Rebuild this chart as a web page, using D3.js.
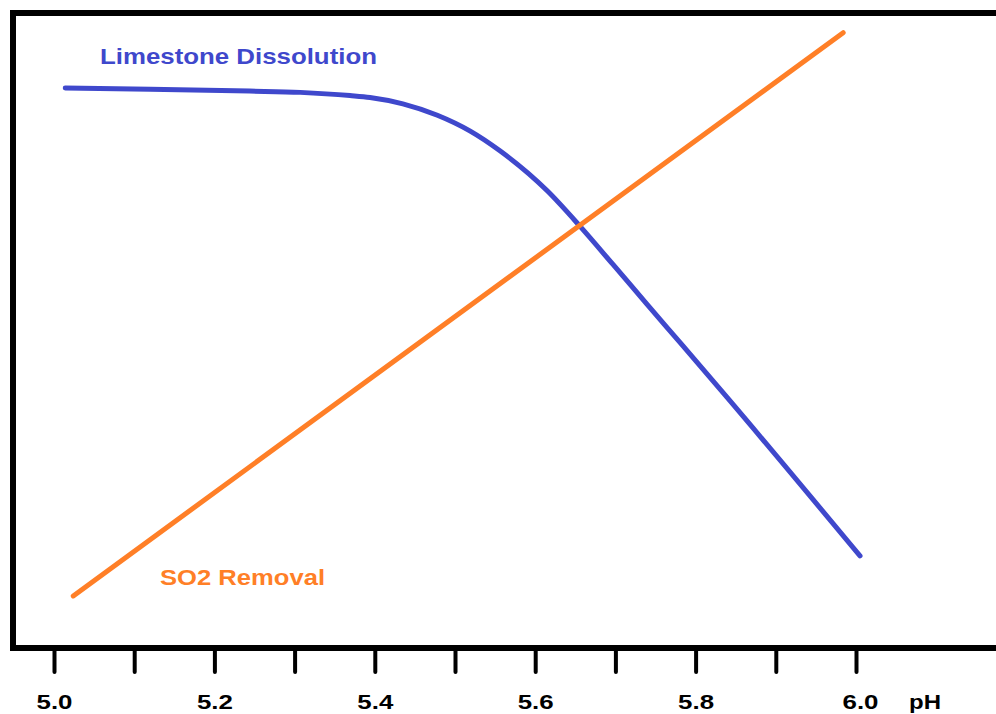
<!DOCTYPE html>
<html>
<head>
<meta charset="utf-8">
<script src="https://cdn.jsdelivr.net/npm/d3@7"></script>
<style>
  html, body { margin: 0; padding: 0; background: #fff; }
  svg { display: block; }
  text { font-family: "Liberation Sans", Arial, sans-serif; font-weight: bold; }
</style>
</head>
<body>
<svg id="chart" width="996" height="714"></svg>
<script>
// ---- data ----
const tickValues = [5.0, 5.1, 5.2, 5.3, 5.4, 5.5, 5.6, 5.7, 5.8, 5.9, 6.0];
const tickLabels = ["5.0", "", "5.2", "", "5.4", "", "5.6", "", "5.8", "", "6.0"];
const limestonePH = [5.014, 5.120, 5.244, 5.307, 5.369, 5.394, 5.435, 5.478, 5.519, 5.556, 5.615, 5.656, 5.697, 5.739, 5.784, 5.839, 6.005];
const limestoneVal = [88.2, 88.0, 87.7, 87.5, 87.0, 86.7, 85.7, 83.9, 81.4, 78.3, 72.0, 66.4, 60.4, 54.2, 47.6, 39.5, 14.5];
const so2PH = [5.024, 5.984];
const so2Val = [8.2, 96.9];
const seriesNames = ["Limestone Dissolution", "SO2 Removal"];
const axisUnit = "pH";

// ---- layout ----
const svg = d3.select("#chart");
const blue = "#3F48CC", orange = "#FF7F27";
const x = d3.scaleLinear().domain([5.0, 6.0]).range([54, 856]);
const y = d3.scaleLinear().domain([0, 100]).range([648, 13]);

// frame
svg.append("path")
  .attr("d", "M996,13 H13 V648 H996")
  .attr("fill", "none").attr("stroke", "#000").attr("stroke-width", 6);

// x axis
const axis = d3.axisBottom(x).tickValues(tickValues).tickSize(22)
  .tickFormat((d, i) => tickLabels[i]);
const gAxis = svg.append("g").attr("transform", "translate(0,650)").call(axis);
gAxis.select(".domain").remove();
gAxis.selectAll(".tick line").attr("stroke", "#000").attr("stroke-width", 4).attr("stroke-linecap", "round");
gAxis.selectAll(".tick text")
  .attr("y", 59).attr("dy", 0)
  .attr("font-size", 21).attr("fill", "#000")
  .attr("font-family", "Liberation Sans, Arial, sans-serif").attr("font-weight", "bold")
  .each(function(d, i) { if (tickLabels[i]) d3.select(this).attr("textLength", 36).attr("lengthAdjust", "spacingAndGlyphs"); });
gAxis.selectAll(".tick text").filter((d, i) => i === 10).attr("dx", 4);

svg.append("text").attr("x", 925).attr("y", 709).attr("text-anchor", "middle")
  .attr("font-size", 21).attr("fill", "#000")
  .attr("textLength", 32).attr("lengthAdjust", "spacingAndGlyphs").text(axisUnit);

// lines
const line = d3.line().x(d => x(d[0])).y(d => y(d[1])).curve(d3.curveMonotoneX);
svg.append("path").datum(limestonePH.map((p, i) => [p, limestoneVal[i]]))
  .attr("d", line).attr("fill", "none").attr("stroke", blue)
  .attr("stroke-width", 5).attr("stroke-linecap", "round").attr("stroke-linejoin", "round");
svg.append("path").datum(so2PH.map((p, i) => [p, so2Val[i]]))
  .attr("d", d3.line().x(d => x(d[0])).y(d => y(d[1]))).attr("fill", "none").attr("stroke", orange)
  .attr("stroke-width", 5).attr("stroke-linecap", "round");

// series labels
svg.append("text").attr("x", 100).attr("y", 64).attr("font-size", 22).attr("fill", blue)
  .attr("textLength", 277).attr("lengthAdjust", "spacingAndGlyphs").text(seriesNames[0]);
svg.append("text").attr("x", 160).attr("y", 585).attr("font-size", 22).attr("fill", orange)
  .attr("textLength", 165).attr("lengthAdjust", "spacingAndGlyphs").text(seriesNames[1]);
</script>
</body>
</html>
